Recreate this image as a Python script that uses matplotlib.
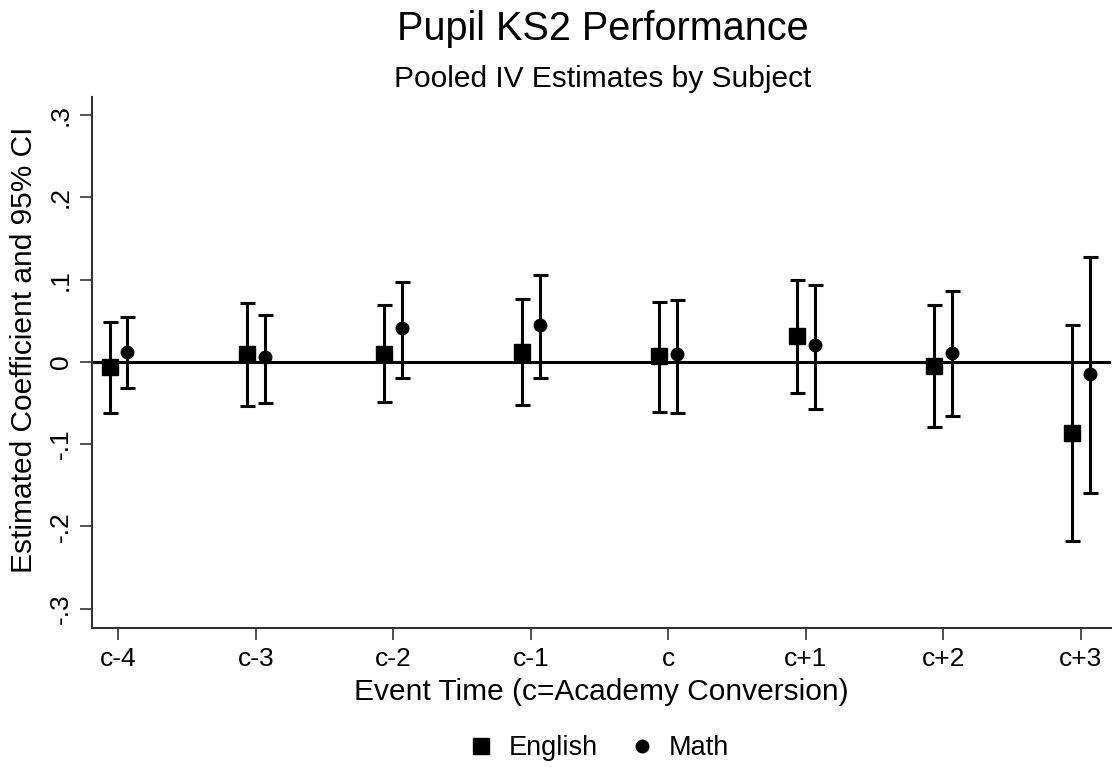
import numpy as np
import matplotlib
matplotlib.use('Agg')
import matplotlib.pyplot as plt

plt.rcParams['font.family'] = ['Liberation Sans', 'DejaVu Sans']

# ------------------------------------ data ------------------------------------
periods = ['c-4', 'c-3', 'c-2', 'c-1', 'c', 'c+1', 'c+2', 'c+3']

eng_coef = [-0.006, 0.009, 0.010, 0.012, 0.007, 0.031, -0.005, -0.086]
eng_hi = [0.049, 0.072, 0.069, 0.076, 0.073, 0.099, 0.069, 0.045]
eng_lo = [-0.062, -0.054, -0.049, -0.053, -0.061, -0.038, -0.079, -0.218]

math_coef = [0.012, 0.006, 0.041, 0.045, 0.009, 0.020, 0.011, -0.015]
math_hi = [0.054, 0.057, 0.097, 0.106, 0.075, 0.093, 0.086, 0.127]
math_lo = [-0.032, -0.050, -0.020, -0.020, -0.062, -0.057, -0.066, -0.160]

yticks = [-0.3, -0.2, -0.1, 0, 0.1, 0.2, 0.3]
ytick_labels = ['-.3', '-.2', '-.1', '0', '.1', '.2', '.3']
# ------------------------------------------------------------------------------

x = np.arange(len(periods))
off = 0.065

fig = plt.figure(figsize=(11.12, 7.7), dpi=100)
ax = fig.add_axes([0.0823, 0.1844, 0.9167, 0.6896])

ax.axhline(0, color='black', lw=2.2, zorder=1)


def draw(xpos, coef, lo, hi, marker, ms, label):
    coef = np.array(coef)
    err = [coef - np.array(lo), np.array(hi) - coef]
    ax.errorbar(xpos, coef, yerr=err, fmt='none', ecolor='black',
                elinewidth=2.2, capsize=5.4, capthick=2.2, zorder=2)
    ax.plot(xpos, coef, linestyle='none', marker=marker, ms=ms,
            color='black', zorder=3, label=label)


draw(x - off, eng_coef, eng_lo, eng_hi, 's', 11, 'English')
draw(x + off, math_coef, math_lo, math_hi, 'o', 9, 'Math')

ax.set_xlim(-0.196, 7.22)
ax.set_ylim(-0.3236, 0.322)
ax.set_xticks(x)
ax.set_xticklabels(periods, fontsize=19)
ax.set_yticks(yticks)
ax.set_yticklabels(ytick_labels, fontsize=19, rotation=90, va='center')

for s in ['top', 'right']:
    ax.spines[s].set_visible(False)
for s in ['left', 'bottom']:
    ax.spines[s].set_color('#333333')
    ax.spines[s].set_linewidth(1.5)
ax.tick_params(axis='both', direction='out', length=8.5, width=1.2,
               color='#333333', pad=5)

ax.set_xlabel('Event Time (c=Academy Conversion)', fontsize=21.5,
              va='baseline')
ax.xaxis.set_label_coords(0.5, -0.1356)
ax.set_ylabel('Estimated Coefficient and 95% CI', fontsize=21.5,
              va='center')
ax.yaxis.set_label_coords(-0.0665, 0.524)

fig.text(0.5418, 0.948, 'Pupil KS2 Performance', fontsize=28.5,
         ha='center', va='baseline')
fig.text(0.5418, 0.887, 'Pooled IV Estimates by Subject', fontsize=21.5,
         ha='center', va='baseline')

fig.legend(loc='center', bbox_to_anchor=(0.5405, 0.028), ncol=2,
           frameon=False, fontsize=19.5, handletextpad=0.7,
           columnspacing=1.33, handlelength=0.6)

fig.savefig('out.png', dpi=100)
